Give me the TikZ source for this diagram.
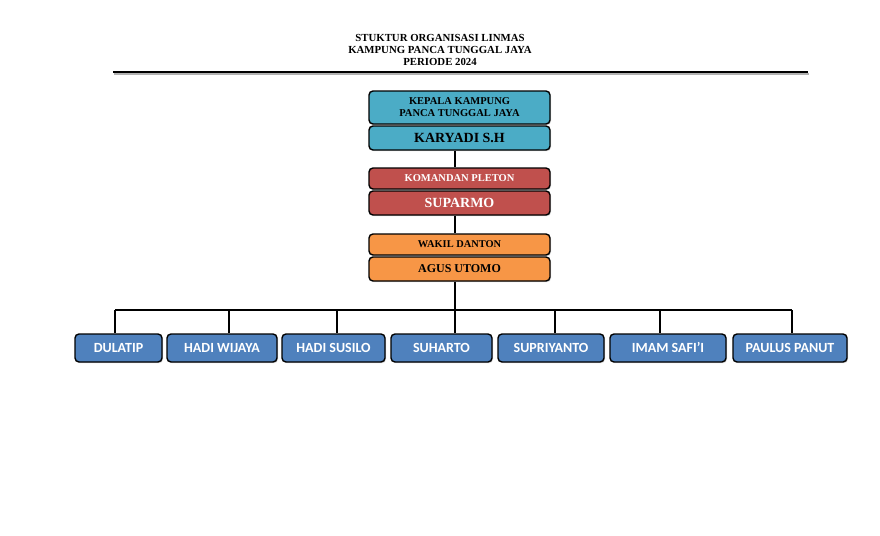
\documentclass[tikz,border=0pt]{standalone}
\usepackage{fontspec}
\setmainfont{Liberation Serif}
\newfontfamily\carlito{Carlito}
\usetikzlibrary{shadows}

\definecolor{kepalablue}{RGB}{75,172,198}
\definecolor{danred}{RGB}{192,80,77}
\definecolor{wakilorange}{RGB}{247,150,70}
\definecolor{anggotablue}{RGB}{79,129,189}

\tikzset{
  jabatan/.style={draw=black,line width=1.4pt,rounded corners=4pt,inner sep=0pt,
    minimum width=181pt,
    drop shadow={shadow xshift=1pt,shadow yshift=-1.2pt,opacity=.35}},
  anggota/.style={jabatan,fill=anggotablue,text=white,minimum height=28pt,
    text height=9pt,text depth=0pt,
    font=\carlito\bfseries\fontsize{14}{16}\selectfont},
  garis/.style={line width=1.3pt}
}

\begin{document}
\begin{tikzpicture}[x=1pt,y=-1pt]
\useasboundingbox (0,0) rectangle (880,535);

% judul
\node[font=\bfseries\fontsize{10.8}{12}\selectfont,align=center] at (440,50) (judul)
  {STUKTUR ORGANISASI LINMAS\\KAMPUNG PANCA TUNGGAL JAYA\\PERIODE 2024};
\draw[gray!60,line width=1.2pt] (114,74) -- (809,74);
\draw[line width=1.6pt] (113,72) -- (808,72);

% pimpinan
\node[jabatan,fill=kepalablue,minimum height=33pt,align=center,
    font=\bfseries\fontsize{10.5}{12}\selectfont] at (459.5,107.5) (kepala)
  {KEPALA KAMPUNG\\PANCA TUNGGAL JAYA};
\node[jabatan,fill=kepalablue,minimum height=24pt,
    font=\bfseries\fontsize{14}{16}\selectfont] at (459.5,138) (karyadi) {KARYADI S.H};

\node[jabatan,fill=danred,text=white,minimum height=21pt,
    font=\bfseries\fontsize{10.5}{12}\selectfont] at (459.5,178.5) (komandan) {KOMANDAN PLETON};
\node[jabatan,fill=danred,text=white,minimum height=24pt,
    font=\bfseries\fontsize{14}{16}\selectfont] at (459.5,203) (suparmo) {SUPARMO};

\node[jabatan,fill=wakilorange,minimum height=21pt,
    font=\bfseries\fontsize{10.4}{12}\selectfont] at (459.5,244.5) (wakil) {WAKIL DANTON};
\node[jabatan,fill=wakilorange,minimum height=24pt,
    font=\bfseries\fontsize{12}{14}\selectfont] at (459.5,269) (agus) {AGUS UTOMO};

% anggota
\node[anggota,minimum width=87pt] at (118.5,348) (a1) {DULATIP};
\node[anggota,minimum width=110pt] at (222,348) (a2) {HADI WIJAYA};
\node[anggota,minimum width=103pt] at (333.5,348) (a3) {HADI SUSILO};
\node[anggota,minimum width=101pt] at (441.5,348) (a4) {SUHARTO};
\node[anggota,minimum width=106pt] at (551,348) (a5) {SUPRIYANTO};
\node[anggota,minimum width=116pt] at (668,348) (a6) {IMAM SAFI’I};
\node[anggota,minimum width=114pt] at (790,348) (a7) {PAULUS PANUT};

% garis
\foreach \i/\dx in {1/115,2/229,3/337,4/455,5/555,6/660,7/792}
  \coordinate (d\i) at (\dx,310);
\draw[garis] (karyadi.south -| d4) -- (komandan.north -| d4);
\draw[garis] (suparmo.south -| d4) -- (wakil.north -| d4);
\draw[garis] (agus.south -| d4) -- (d4);
\draw[garis] (d1) -- (d7);
\foreach \i in {1,...,7}
  \draw[garis] (d\i) -- (d\i |- a\i.north);
\end{tikzpicture}
\end{document}
